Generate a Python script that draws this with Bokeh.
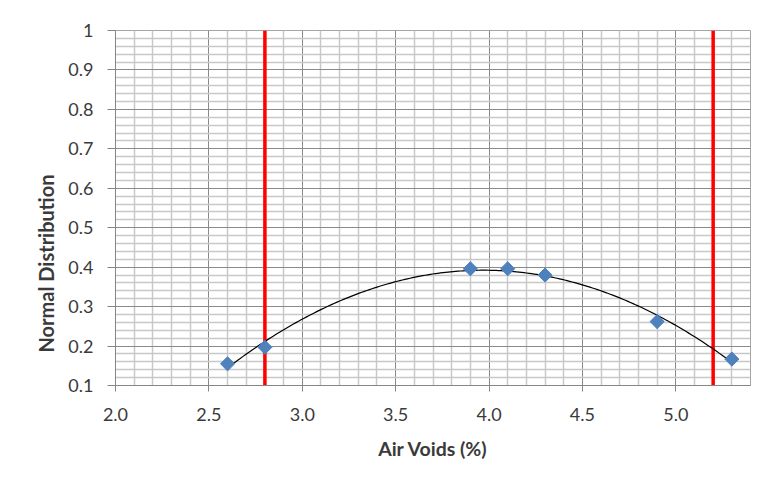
import numpy as np
from bokeh.plotting import figure
from bokeh.models import FixedTicker, NumeralTickFormatter, Range1d, Title
from bokeh.embed import file_html
from bokeh.resources import INLINE

# data
air_voids = [2.6, 2.8, 3.9, 4.1, 4.3, 4.9, 5.3]
normal_dist = [0.155, 0.197, 0.396, 0.396, 0.380, 0.262, 0.167]
spec_limits = [2.8, 5.2]
x_major = [2.0, 2.5, 3.0, 3.5, 4.0, 4.5, 5.0]
y_major = [0.1, 0.2, 0.3, 0.4, 0.5, 0.6, 0.7, 0.8, 0.9, 1.0]

FONT = "Lato"
TXT = "#3a3a3a"

p = figure(width=766, height=474, output_backend="svg", toolbar_location=None,
           x_range=Range1d(2.0, 5.4), y_range=Range1d(0.1, 1.0),
           min_border_left=115, min_border_right=16, min_border_top=30, min_border_bottom=89)
p.background_fill_color = "white"
p.border_fill_color = "white"
p.outline_line_color = "#a6a6a6"

x_minor = [round(2.0 + 0.1 * i, 2) for i in range(35) if i % 5 != 0]
y_minor = [round(0.1 + 0.02 * i, 2) for i in range(46) if i % 5 != 0]
p.xaxis.ticker = FixedTicker(ticks=x_major, minor_ticks=x_minor)
p.yaxis.ticker = FixedTicker(ticks=y_major, minor_ticks=y_minor)
p.xaxis.formatter = NumeralTickFormatter(format="0.0")
p.yaxis.formatter = NumeralTickFormatter(format="0.[0]")

for ax in (p.xaxis, p.yaxis):
    ax.axis_line_color = "#868686"
    ax.major_tick_line_color = "#868686"
    ax.minor_tick_line_color = None
    ax.major_tick_in = 0
    ax.major_label_text_font = FONT
    ax.major_label_text_font_size = "18px"
    ax.major_label_text_color = TXT
p.xaxis.major_tick_out = 6
p.xaxis.major_label_standoff = 16
p.yaxis.major_tick_out = 8
p.yaxis.major_label_standoff = 14

p.xaxis.axis_label = "Air Voids (%)"
p.xaxis.axis_label_text_font = FONT
p.xaxis.axis_label_text_font_size = "19.5px"
p.xaxis.axis_label_text_font_style = "bold"
p.xaxis.axis_label_text_color = TXT
p.xaxis.axis_label_standoff = 13

for g in (p.xgrid, p.ygrid):
    g.grid_line_color = "#8a8a8a"
    g.grid_line_width = 1
    g.minor_grid_line_color = "#c8c8c8"
    g.minor_grid_line_width = 1.5

# red specification lines
for s in spec_limits:
    p.line([s, s], [0.1, 1.0], line_color="#ff0000", line_width=3.5)

# polynomial (order 2) trendline through the points
coef = np.polyfit(air_voids, normal_dist, 2)
xs = np.linspace(min(air_voids), max(air_voids), 200)
p.line(xs, np.polyval(coef, xs), line_color="black", line_width=1.2)

p.scatter(air_voids, normal_dist, marker="square", size=10, angle=np.pi / 4,
          fill_color="#4f81bd", line_color="#4f81bd")

ytitle = Title(text="Normal Distribution", align="left", offset=33, standoff=16,
               text_font=FONT, text_font_size="20px", text_font_style="bold",
               text_color=TXT)
p.add_layout(ytitle, "left")

open("out.html", "w").write(file_html(p, INLINE))
